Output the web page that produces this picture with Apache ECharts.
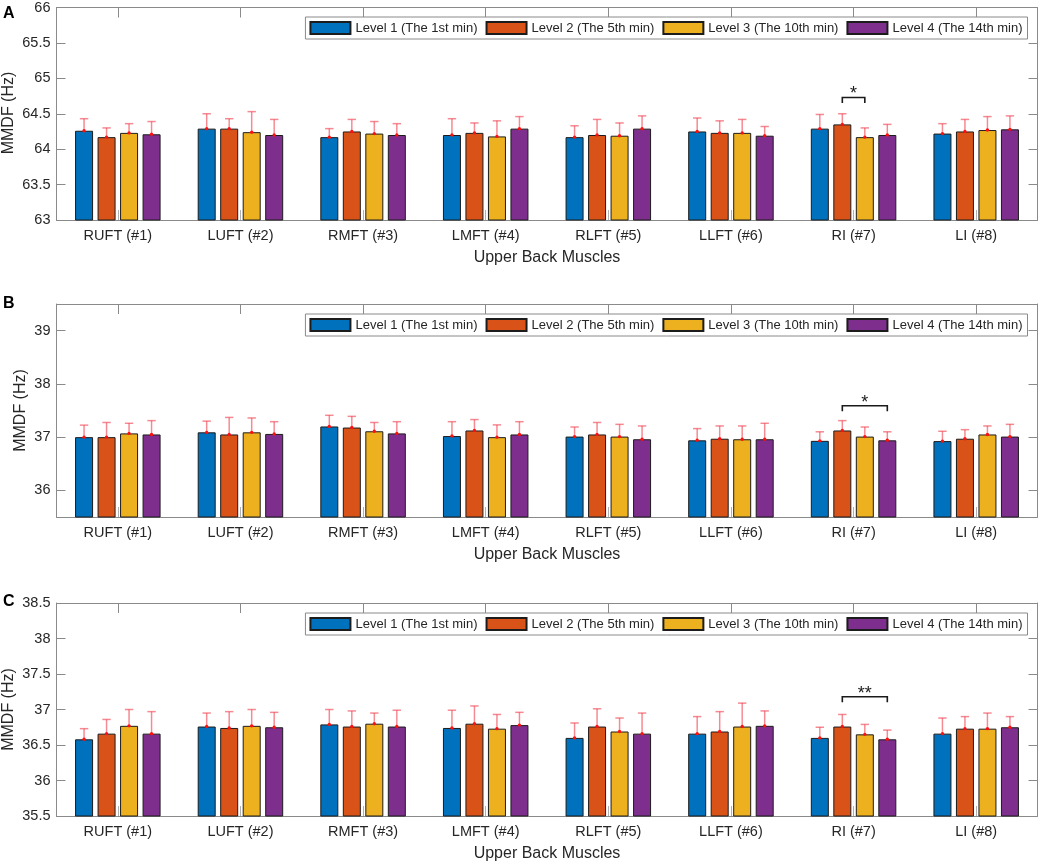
<!DOCTYPE html>
<html>
<head>
<meta charset="utf-8">
<script src="https://cdn.jsdelivr.net/npm/echarts@6/dist/echarts.min.js"></script>
<style>
html,body{margin:0;padding:0;background:#fff;}
#chart{width:1041px;height:864px;}
</style>
</head>
<body>
<div id="chart"></div>
<script>
// ---------------- DATA ----------------
var categories = ['RUFT (#1)', 'LUFT (#2)', 'RMFT (#3)', 'LMFT (#4)', 'RLFT (#5)', 'LLFT (#6)', 'RI (#7)', 'LI (#8)'];
var levelNames = ['Level 1 (The 1st min)', 'Level 2 (The 5th min)', 'Level 3 (The 10th min)', 'Level 4 (The 14th min)'];
var panelLetters = ['A', 'B', 'C'];
var xAxisName = 'Upper Back Muscles';
var yAxisName = 'MMDF (Hz)';

// Panel A means and SD (error bar heights)
var meanA_L1 = [64.26, 64.29, 64.17, 64.20, 64.17, 64.25, 64.29, 64.22];
var meanA_L2 = [64.17, 64.29, 64.25, 64.23, 64.20, 64.23, 64.35, 64.25];
var meanA_L3 = [64.23, 64.24, 64.22, 64.18, 64.19, 64.23, 64.17, 64.27];
var meanA_L4 = [64.21, 64.20, 64.20, 64.29, 64.29, 64.19, 64.20, 64.28];
var sdA_L1 = [0.17, 0.21, 0.12, 0.23, 0.16, 0.19, 0.20, 0.14];
var sdA_L2 = [0.13, 0.14, 0.17, 0.14, 0.22, 0.17, 0.15, 0.17];
var sdA_L3 = [0.13, 0.29, 0.17, 0.22, 0.18, 0.19, 0.13, 0.19];
var sdA_L4 = [0.18, 0.22, 0.16, 0.17, 0.18, 0.13, 0.15, 0.19];

// Panel B
var meanB_L1 = [37.00, 37.09, 37.20, 37.02, 37.01, 36.94, 36.93, 36.925];
var meanB_L2 = [37.00, 37.05, 37.18, 37.125, 37.05, 36.97, 37.125, 36.97];
var meanB_L3 = [37.07, 37.09, 37.11, 37.00, 37.01, 36.96, 37.01, 37.05];
var meanB_L4 = [37.05, 37.06, 37.07, 37.05, 36.96, 36.96, 36.94, 37.01];
var sdB_L1 = [0.225, 0.21, 0.21, 0.27, 0.18, 0.22, 0.17, 0.185];
var sdB_L2 = [0.275, 0.32, 0.21, 0.205, 0.225, 0.24, 0.185, 0.17];
var sdB_L3 = [0.19, 0.27, 0.165, 0.23, 0.23, 0.25, 0.18, 0.16];
var sdB_L4 = [0.26, 0.23, 0.22, 0.24, 0.25, 0.30, 0.16, 0.23];

// Panel C
var meanC_L1 = [36.58, 36.76, 36.79, 36.74, 36.60, 36.66, 36.60, 36.66];
var meanC_L2 = [36.66, 36.74, 36.76, 36.80, 36.76, 36.69, 36.76, 36.73];
var meanC_L3 = [36.77, 36.77, 36.80, 36.73, 36.69, 36.76, 36.65, 36.73];
var meanC_L4 = [36.66, 36.75, 36.76, 36.78, 36.66, 36.77, 36.58, 36.75];
var sdC_L1 = [0.15, 0.19, 0.21, 0.25, 0.21, 0.24, 0.15, 0.22];
var sdC_L2 = [0.20, 0.23, 0.22, 0.25, 0.25, 0.28, 0.17, 0.17];
var sdC_L3 = [0.23, 0.23, 0.15, 0.20, 0.19, 0.33, 0.14, 0.22];
var sdC_L4 = [0.31, 0.21, 0.23, 0.18, 0.29, 0.21, 0.13, 0.15];

// Y-axis ranges and tick values
var yMinA = 63, yMaxA = 66, yTicksA = [63, 63.5, 64, 64.5, 65, 65.5, 66];
var yMinB = 35.5, yMaxB = 39.5, yTicksB = [36, 37, 38, 39];
var yMinC = 35.5, yMaxC = 38.5, yTicksC = [35.5, 36, 36.5, 37, 37.5, 38, 38.5];

// Significance brackets: category, level pair (1-based), bracket height (value), label
var sigCatA = 'RI (#7)', sigPairA = [2, 3], sigLevelA = 64.73, sigLabelA = '*';
var sigCatB = 'RI (#7)', sigPairB = [2, 4], sigLevelB = 37.59, sigLabelB = '*';
var sigCatC = 'RI (#7)', sigPairC = [2, 4], sigLevelC = 37.18, sigLabelC = '**';

// ---------------- STYLE / LAYOUT ----------------
var colors = ['#0072BD', '#D95319', '#EDB120', '#7E2F8E'];
var FONT = '"Liberation Sans", Arial, sans-serif';
var BAR_W = 18, BAR_GAP = 4.5;
var OFFSETS = [0, 1, 2, 3].map(function (k) {
  var total = 4 * BAR_W + 3 * BAR_GAP;
  return -total / 2 + BAR_W / 2 + k * (BAR_W + BAR_GAP);
});
var AXIS_COLOR = '#8a8a8a';
var TEXT_COLOR = '#262626';

var panels = [
  {means: [meanA_L1, meanA_L2, meanA_L3, meanA_L4], sds: [sdA_L1, sdA_L2, sdA_L3, sdA_L4],
   min: yMinA, max: yMaxA, ticks: yTicksA, top: 6, height: 214, legendTop: 17, nameX: 9, letterTop: 6,
   sig: {cat: sigCatA, pair: sigPairA, level: sigLevelA, label: sigLabelA}},
  {means: [meanB_L1, meanB_L2, meanB_L3, meanB_L4], sds: [sdB_L1, sdB_L2, sdB_L3, sdB_L4],
   min: yMinB, max: yMaxB, ticks: yTicksB, top: 304, height: 213, legendTop: 314, nameX: 21, letterTop: 296,
   sig: {cat: sigCatB, pair: sigPairB, level: sigLevelB, label: sigLabelB}},
  {means: [meanC_L1, meanC_L2, meanC_L3, meanC_L4], sds: [sdC_L1, sdC_L2, sdC_L3, sdC_L4],
   min: yMinC, max: yMaxC, ticks: yTicksC, top: 603, height: 213, legendTop: 613, nameX: 9, letterTop: 594,
   sig: {cat: sigCatC, pair: sigPairC, level: sigLevelC, label: sigLabelC}}
];

function errRender(level) {
  return function (params, api) {
    var c = api.value(0), m = api.value(1), s = api.value(2);
    var p0 = api.coord([c, m]);
    var p1 = api.coord([c, m + s]);
    var x = p0[0] + OFFSETS[level];
    var st = {stroke: 'rgba(240,60,75,0.6)', lineWidth: 1.5};
    return {type: 'group', children: [
      {type: 'line', shape: {x1: x, y1: p0[1], x2: x, y2: p1[1]}, style: st},
      {type: 'line', shape: {x1: x - 4.2, y1: p1[1], x2: x + 4.2, y2: p1[1]}, style: st},
      {type: 'circle', shape: {cx: x, cy: p0[1], r: 1.7}, style: {fill: '#ff1010'}}
    ]};
  };
}

function sigRender(sig) {
  return function (params, api) {
    var c = api.value(0), v = api.value(1);
    var p = api.coord([c, v]);
    var x1 = p[0] + OFFSETS[sig.pair[0] - 1];
    var x2 = p[0] + OFFSETS[sig.pair[1] - 1];
    var y = p[1];
    return {type: 'group', children: [
      {type: 'polyline', shape: {points: [[x1, y + 5.5], [x1, y], [x2, y], [x2, y + 5.5]]},
       style: {stroke: '#1a1a1a', lineWidth: 1.6, fill: null}},
      {type: 'text', x: (x1 + x2) / 2, y: y - 3,
       style: {text: sig.label, fontSize: 18, fontFamily: FONT, fill: '#1a1a1a', align: 'center', verticalAlign: 'middle'}}
    ]};
  };
}

var grids = [], xAxes = [], yAxes = [], series = [], legends = [], graphics = [];

panels.forEach(function (P, p) {
  grids.push({left: 56.5, right: 3.5, top: P.top, height: P.height, containLabel: false});
  xAxes.push({
    type: 'category', gridIndex: p, data: categories, position: 'bottom',
    axisLine: {show: true, lineStyle: {color: AXIS_COLOR, width: 1}},
    axisTick: {show: true, inside: true, alignWithLabel: true, length: 10, lineStyle: {color: '#b0b0b0'}},
    axisLabel: {fontSize: 14.5, fontFamily: FONT, color: TEXT_COLOR, margin: 8},
    name: xAxisName, nameLocation: 'middle', nameGap: 30,
    nameTextStyle: {fontSize: 16, fontFamily: FONT, color: TEXT_COLOR}
  });
  xAxes.push({
    type: 'category', gridIndex: p, data: categories, position: 'top',
    axisLine: {show: true, lineStyle: {color: AXIS_COLOR, width: 1}},
    axisTick: {show: true, inside: true, alignWithLabel: true, length: 10, lineStyle: {color: AXIS_COLOR}},
    axisLabel: {show: false}
  });
  yAxes.push({
    type: 'value', gridIndex: p, min: P.min, max: P.max, position: 'left',
    axisLine: {show: true, lineStyle: {color: AXIS_COLOR, width: 1}},
    axisTick: {show: true, inside: true, length: 9, customValues: P.ticks, lineStyle: {color: AXIS_COLOR}},
    axisLabel: {fontSize: 14.5, fontFamily: FONT, color: TEXT_COLOR, margin: 6, customValues: P.ticks,
      showMinLabel: true, showMaxLabel: true},
    splitLine: {show: false}
  });
  yAxes.push({
    type: 'value', gridIndex: p, min: P.min, max: P.max, position: 'right',
    axisLine: {show: true, lineStyle: {color: AXIS_COLOR, width: 1}},
    axisTick: {show: true, inside: true, length: 9, customValues: P.ticks, lineStyle: {color: AXIS_COLOR}},
    axisLabel: {show: false},
    splitLine: {show: false}
  });

  for (var k = 0; k < 4; k++) {
    series.push({
      type: 'bar', name: levelNames[k], xAxisIndex: 2 * p, yAxisIndex: 2 * p,
      data: P.means[k], barWidth: BAR_W, barGap: (BAR_GAP / BAR_W * 100) + '%',
      itemStyle: {color: colors[k], borderColor: '#1c1c1c', borderWidth: 1},
      emphasis: {disabled: true}, animation: false, z: 2
    });
  }
  for (var k2 = 0; k2 < 4; k2++) {
    var d = P.means[k2].map(function (m, i) { return [i, m, P.sds[k2][i]]; });
    series.push({
      type: 'custom', name: 'err' + p + '_' + k2, xAxisIndex: 2 * p, yAxisIndex: 2 * p,
      renderItem: errRender(k2), data: d, encode: {x: 0, y: 1}, z: 4, silent: true, animation: false
    });
  }
  series.push({
    type: 'custom', name: 'sig' + p, xAxisIndex: 2 * p, yAxisIndex: 2 * p,
    renderItem: sigRender(P.sig), data: [[categories.indexOf(P.sig.cat), P.sig.level]],
    encode: {x: 0, y: 1}, z: 5, silent: true, animation: false
  });

  legends.push({
    data: levelNames, right: 13.5, top: P.legendTop, orient: 'horizontal',
    itemWidth: 40, itemHeight: 12, itemGap: 8, padding: [4, 5, 4, 4],
    borderColor: '#8a8a8a', borderWidth: 1, backgroundColor: '#fff',
    textStyle: {fontSize: 13, fontFamily: FONT, color: TEXT_COLOR},
    selectedMode: false, icon: 'rect'
  });

  graphics.push({
    type: 'text', left: 3, top: P.letterTop,
    style: {text: panelLetters[p], fontSize: 16, fontWeight: 'bold', fontFamily: FONT, fill: '#000'}
  });
  // y-axis title, rotated, centred on the plot height
  graphics.push({
    type: 'text', x: P.nameX, y: P.top + P.height / 2, rotation: Math.PI / 2,
    style: {text: yAxisName, fontSize: 16, fontFamily: FONT, fill: TEXT_COLOR, align: 'center', verticalAlign: 'middle'}
  });
});

var chart = echarts.init(document.getElementById('chart'), null, {renderer: 'canvas'});
chart.setOption({
  animation: false,
  backgroundColor: '#fff',
  grid: grids,
  xAxis: xAxes,
  yAxis: yAxes,
  legend: legends,
  series: series,
  graphic: graphics
});
</script>
</body>
</html>
